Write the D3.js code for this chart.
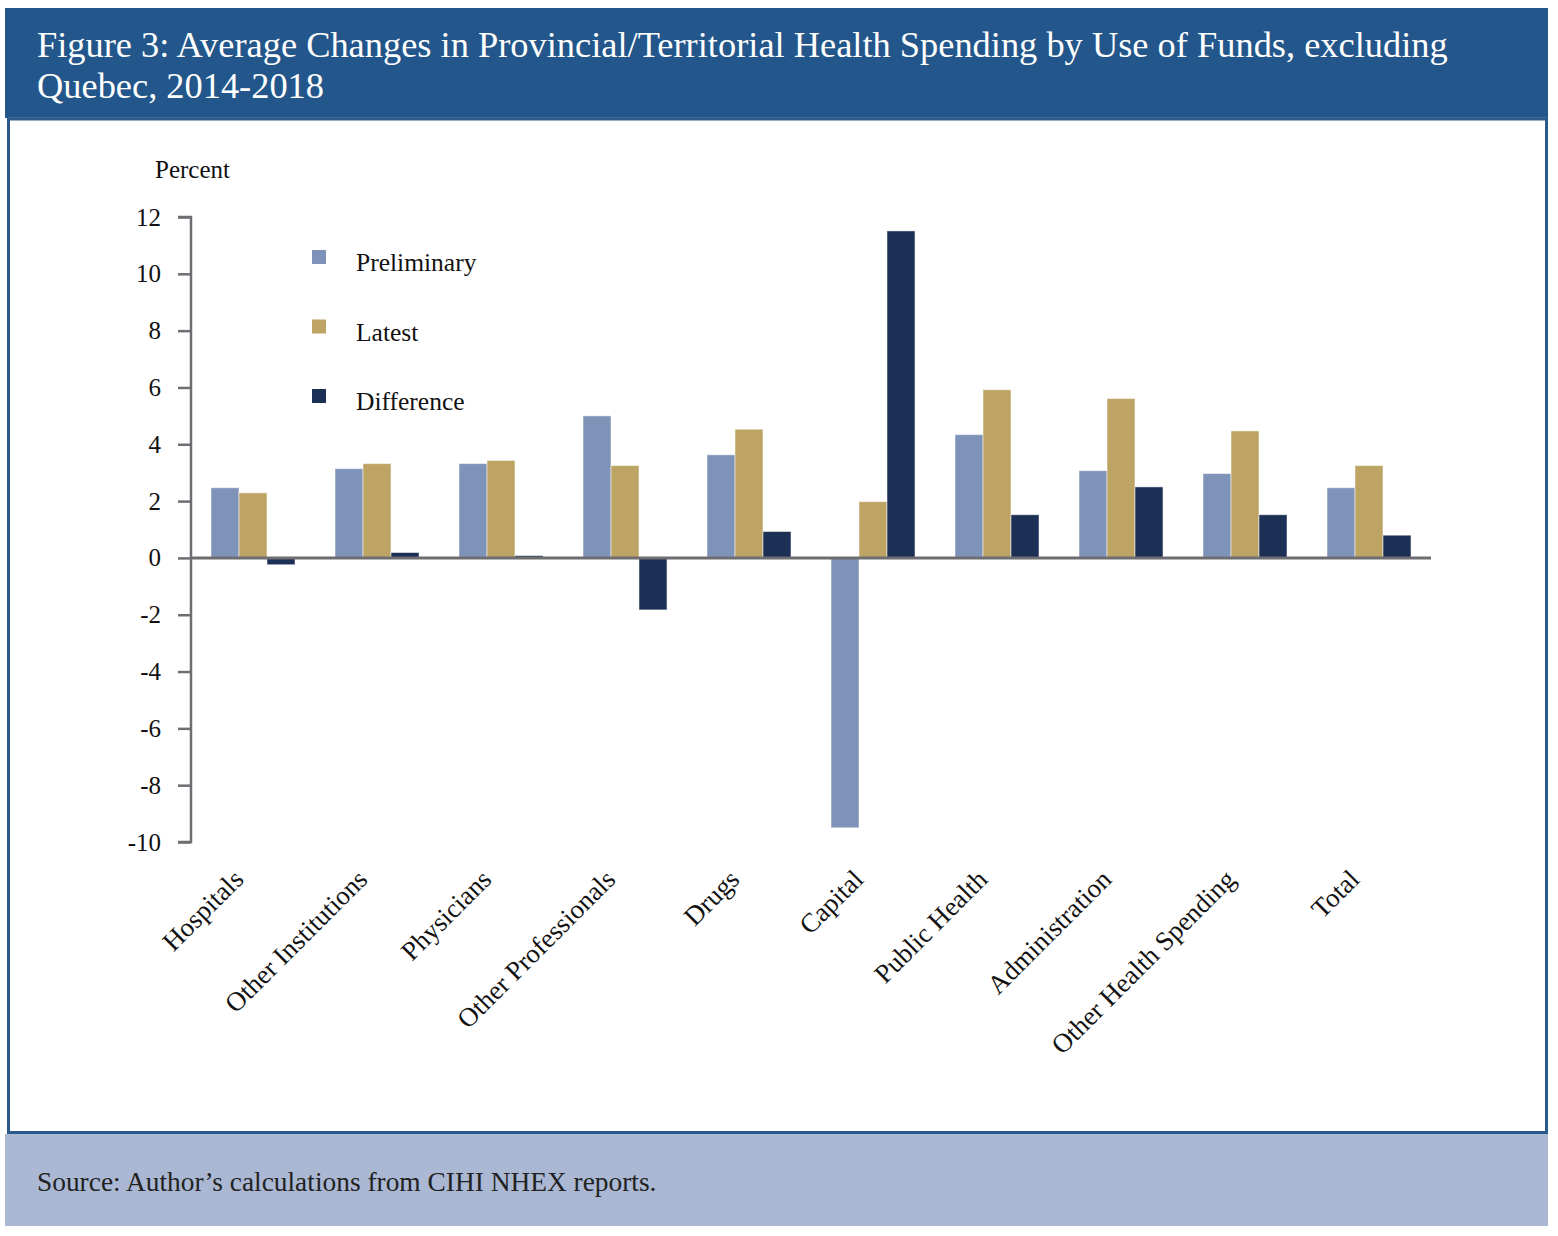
<!DOCTYPE html>
<html>
<head>
<meta charset="utf-8">
<script src="https://cdn.jsdelivr.net/npm/d3@7"></script>
<style>
  body { margin: 0; background: #fff; }
  text { font-family: "Liberation Serif", "DejaVu Serif", serif; }
</style>
</head>
<body>
<div id="chart"></div>
<script>
// Données
const categories = ['Hospitals', 'Other Institutions', 'Physicians', 'Other Professionals', 'Drugs',
    'Capital', 'Public Health', 'Administration', 'Other Health Spending', 'Total'];
const seriesNames = ['Preliminary', 'Latest', 'Difference'];
const preliminary = [2.47, 3.14, 3.32, 5.0, 3.63, -9.5, 4.34, 3.07, 2.97, 2.47];
const latest = [2.29, 3.32, 3.43, 3.25, 4.53, 1.98, 5.92, 5.61, 4.47, 3.25];
const difference = [-0.24, 0.19, 0.08, -1.83, 0.93, 11.51, 1.52, 2.5, 1.52, 0.8];
const yTicks = [12, 10, 8, 6, 4, 2, 0, -2, -4, -6, -8, -10];
const colors = ['#7f93b9', '#bea464', '#1c2f55'];

const W = 1558, H = 1236;
const svg = d3.select('#chart').append('svg')
    .attr('width', W)
    .attr('height', H);

// Bandeau du titre
svg.append('rect').attr('x', 5).attr('y', 8).attr('width', 1543).attr('height', 110).attr('fill', '#23568a');
svg.append('line').attr('x1', 8).attr('x2', 1546).attr('y1', 118).attr('y2', 118)
    .attr('stroke', '#8fa9c8').attr('stroke-width', 1);

const title = svg.append('text').attr('fill', '#fff').attr('font-size', 36.4);
title.append('tspan').attr('x', 37).attr('y', 57)
    .text('Figure 3: Average Changes in Provincial/Territorial Health Spending by Use of Funds, excluding');
title.append('tspan').attr('x', 37).attr('y', 98).text('Quebec, 2014-2018');

// Cadre
svg.append('rect').attr('x', 8.5).attr('y', 119).attr('width', 1538).attr('height', 1013.5)
    .attr('fill', '#fff').attr('stroke', '#2a5a8c').attr('stroke-width', 3);

// Pied
svg.append('rect').attr('x', 5).attr('y', 1134).attr('width', 1543).attr('height', 92).attr('fill', '#aab8d4');
svg.append('text').attr('x', 37).attr('y', 1191).attr('font-size', 27.4).attr('fill', '#222')
    .text('Source: Author’s calculations from CIHI NHEX reports.');

// Échelles
const x0 = d3.scaleBand().domain(categories).range([191, 1431]).paddingInner(0).paddingOuter(0);
const x1 = d3.scaleBand().domain(seriesNames).range([20, x0.bandwidth() - 20]);
const y = d3.scaleLinear().domain([-10, 12]).range([842, 217]);

const rows = categories.map((c, i) => ({
    cat: c,
    vals: [preliminary[i], latest[i], difference[i]]
}));

const groups = svg.append('g').selectAll('g')
    .data(rows)
    .enter().append('g')
    .attr('transform', d => `translate(${x0(d.cat)},0)`);

groups.selectAll('rect')
    .data(d => d.vals.map((v, j) => ({ name: seriesNames[j], v, j })))
    .enter().append('rect')
    .attr('x', d => x1(d.name))
    .attr('width', x1.bandwidth())
    .attr('y', d => y(Math.max(0, d.v)))
    .attr('height', d => Math.abs(y(d.v) - y(0)))
    .attr('fill', d => colors[d.j])
    .attr('stroke', 'rgba(255,255,255,0.5)')
    .attr('stroke-width', 1);

// Axe Y
const yAxis = svg.append('g')
    .attr('transform', 'translate(191,0)')
    .call(d3.axisLeft(y).tickValues(yTicks).tickSize(13).tickPadding(17).tickFormat(d => String(d)));
yAxis.select('.domain').attr('stroke', '#6d6d72').attr('stroke-width', 2.5).attr('d', 'M-13,217H0V842H-13');
yAxis.selectAll('.tick line').attr('stroke', '#6d6d72').attr('stroke-width', 2.5);
yAxis.selectAll('.tick text').attr('font-size', 25).attr('fill', '#111')
    .attr('font-family', '"Liberation Serif", serif');

// Ligne zéro
svg.append('line')
    .attr('x1', 191).attr('x2', 1431)
    .attr('y1', y(0)).attr('y2', y(0))
    .attr('stroke', '#6d6d72').attr('stroke-width', 3);

svg.append('text').attr('x', 155).attr('y', 178).attr('font-size', 25).attr('fill', '#111').text('Percent');

// Étiquettes des catégories
svg.append('g').selectAll('text')
    .data(categories)
    .enter().append('text')
    .attr('transform', d => `translate(${x0(d) + x0.bandwidth() / 2 - 8},881) rotate(-45)`)
    .attr('text-anchor', 'end')
    .attr('font-size', 26.8)
    .attr('fill', '#111')
    .text(d => d);

// Légende
const legend = svg.append('g').selectAll('g')
    .data(seriesNames)
    .enter().append('g')
    .attr('transform', (d, i) => `translate(312,${250 + i * 69.5})`);
legend.append('rect').attr('width', 14).attr('height', 14).attr('fill', (d, i) => colors[i]);
legend.append('text').attr('x', 44).attr('y', 21).attr('font-size', 25.5).attr('fill', '#111').text(d => d);
</script>
</body>
</html>
